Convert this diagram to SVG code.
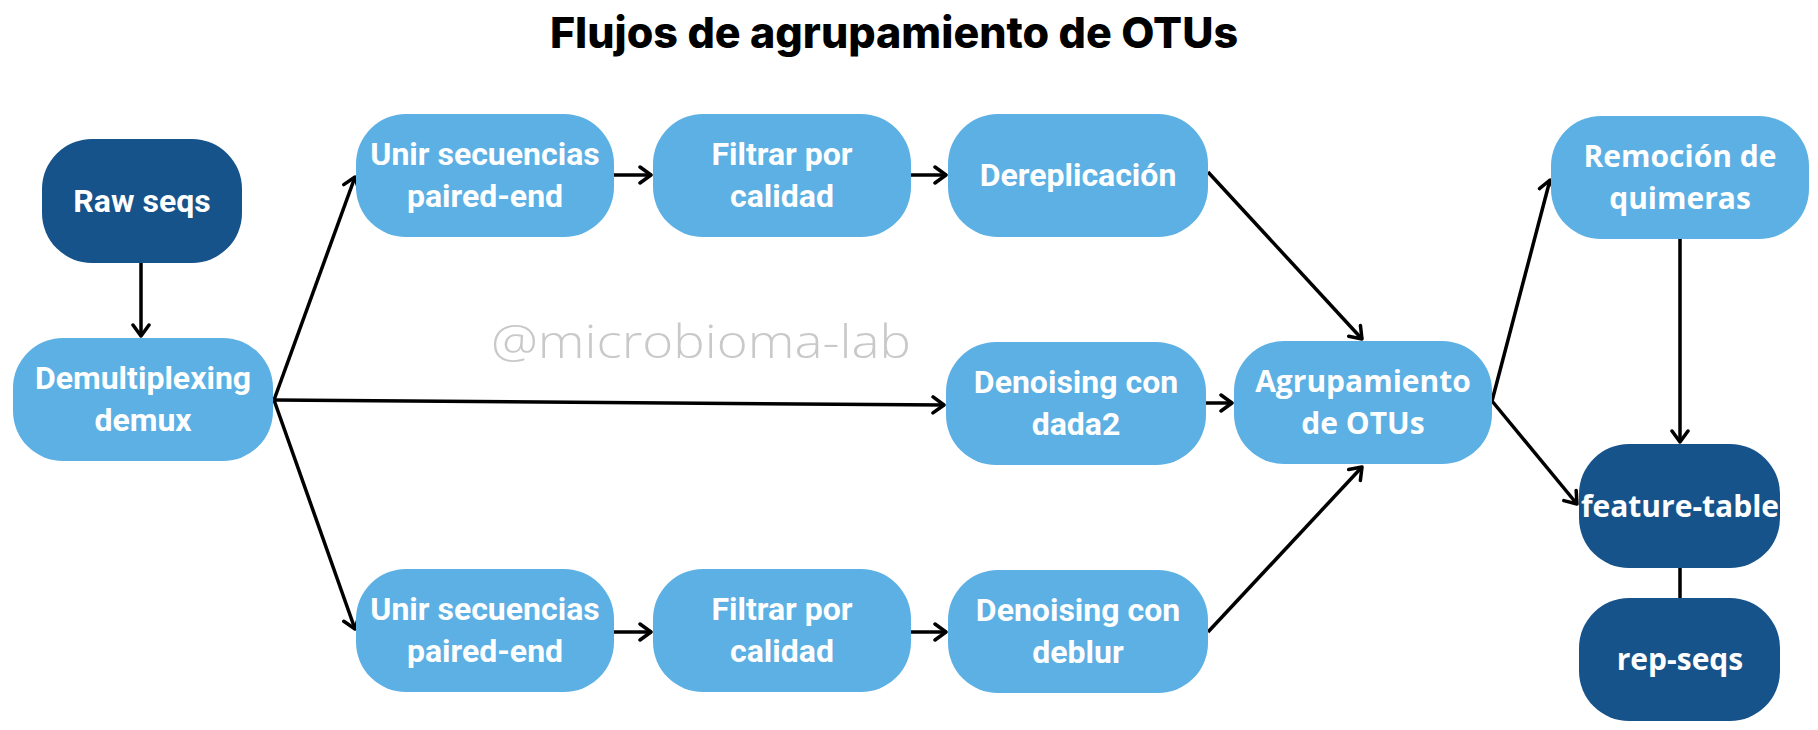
<svg xmlns="http://www.w3.org/2000/svg" width="1818" height="730" viewBox="0 0 1818 730">
<defs>
<style>
.lb{fill:#5CB0E4}
.db{fill:#16538A}
.t{font-family:Roboto,"Liberation Sans",sans-serif;font-weight:700;font-size:32px;fill:#fff;text-anchor:middle}
.m{font-family:"Open Sans","Liberation Sans",sans-serif;font-weight:700;font-size:30px;fill:#fff;text-anchor:middle}
.c{stroke:#000;stroke-width:3.5;fill:none}
</style>
<marker id="ah" markerUnits="userSpaceOnUse" markerWidth="16" markerHeight="20" refX="13" refY="10" orient="auto" viewBox="0 0 16 20">
<path d="M2,2 L13,10 L2,18" fill="none" stroke="#000" stroke-width="3.5" stroke-linecap="round" stroke-linejoin="round"/>
</marker>
</defs>
<rect width="1818" height="730" fill="#fff"/>
<text x="894" y="48" font-family="Inter,'Open Sans',sans-serif" font-weight="800" font-size="43" text-anchor="middle" fill="#000">Flujos de agrupamiento de OTUs</text>
<text x="701" y="358" font-family="'Open Sans',sans-serif" font-weight="300" font-size="46" text-anchor="middle" fill="#C9C9C9" textLength="420" lengthAdjust="spacingAndGlyphs">@microbioma-lab</text>
<g id="connectors">
<line class="c" x1="141" y1="263" x2="141" y2="336" marker-end="url(#ah)"/>
<line class="c" x1="274" y1="400" x2="355" y2="177" marker-end="url(#ah)"/>
<line class="c" x1="274" y1="400" x2="944" y2="405" marker-end="url(#ah)"/>
<line class="c" x1="274" y1="400" x2="355" y2="629" marker-end="url(#ah)"/>
<line class="c" x1="614" y1="175" x2="651" y2="175" marker-end="url(#ah)"/>
<line class="c" x1="911" y1="175" x2="946" y2="175" marker-end="url(#ah)"/>
<line class="c" x1="1208" y1="172" x2="1362" y2="339" marker-end="url(#ah)"/>
<line class="c" x1="1206" y1="403" x2="1232" y2="403" marker-end="url(#ah)"/>
<line class="c" x1="1208" y1="632" x2="1362" y2="467" marker-end="url(#ah)"/>
<line class="c" x1="1492" y1="401" x2="1550" y2="180" marker-end="url(#ah)"/>
<line class="c" x1="1492" y1="401" x2="1577" y2="504" marker-end="url(#ah)"/>
<line class="c" x1="1680" y1="239" x2="1680" y2="442" marker-end="url(#ah)"/>
<line class="c" x1="1680" y1="568" x2="1680" y2="598"/>
<line class="c" x1="614" y1="632" x2="651" y2="632" marker-end="url(#ah)"/>
<line class="c" x1="911" y1="632" x2="946" y2="632" marker-end="url(#ah)"/>
</g>
<g id="raw-seqs"><rect class="db" x="42" y="139" width="200" height="124" rx="50"/><text class="t" x="142" y="212">Raw seqs</text></g>
<g id="demux"><rect class="lb" x="13" y="338" width="260" height="123" rx="50"/><text class="t" x="143" y="389">Demultiplexing</text><text class="t" x="143" y="431">demux</text></g>
<g id="unir-top"><rect class="lb" x="356" y="114" width="258" height="123" rx="50"/><text class="t" x="485" y="165">Unir secuencias</text><text class="t" x="485" y="207">paired-end</text></g>
<g id="filtrar-top"><rect class="lb" x="653" y="114" width="258" height="123" rx="50"/><text class="t" x="782" y="165">Filtrar por</text><text class="t" x="782" y="207">calidad</text></g>
<g id="dereplicacion"><rect class="lb" x="948" y="114" width="260" height="123" rx="50"/><text class="t" x="1078" y="186">Dereplicación</text></g>
<g id="dada2"><rect class="lb" x="946" y="342" width="260" height="123" rx="50"/><text class="t" x="1076" y="393">Denoising con</text><text class="t" x="1076" y="435">dada2</text></g>
<g id="agrupamiento"><rect class="lb" x="1234" y="341" width="258" height="123" rx="50"/><text class="m" x="1363" y="392">Agrupamiento</text><text class="m" x="1363" y="434">de OTUs</text></g>
<g id="remocion"><rect class="lb" x="1551" y="116" width="258" height="123" rx="50"/><text class="m" x="1680" y="167">Remoción de</text><text class="m" x="1680" y="209">quimeras</text></g>
<g id="feature-table"><rect class="db" x="1579" y="444" width="201" height="124" rx="50"/><text class="m" x="1680" y="517">feature-table</text></g>
<g id="rep-seqs"><rect class="db" x="1579" y="598" width="201" height="123" rx="50"/><text class="m" x="1680" y="670">rep-seqs</text></g>
<g id="unir-bottom"><rect class="lb" x="356" y="569" width="258" height="123" rx="50"/><text class="t" x="485" y="620">Unir secuencias</text><text class="t" x="485" y="662">paired-end</text></g>
<g id="filtrar-bottom"><rect class="lb" x="653" y="569" width="258" height="123" rx="50"/><text class="t" x="782" y="620">Filtrar por</text><text class="t" x="782" y="662">calidad</text></g>
<g id="deblur"><rect class="lb" x="948" y="570" width="260" height="123" rx="50"/><text class="t" x="1078" y="621">Denoising con</text><text class="t" x="1078" y="663">deblur</text></g>
</svg>
